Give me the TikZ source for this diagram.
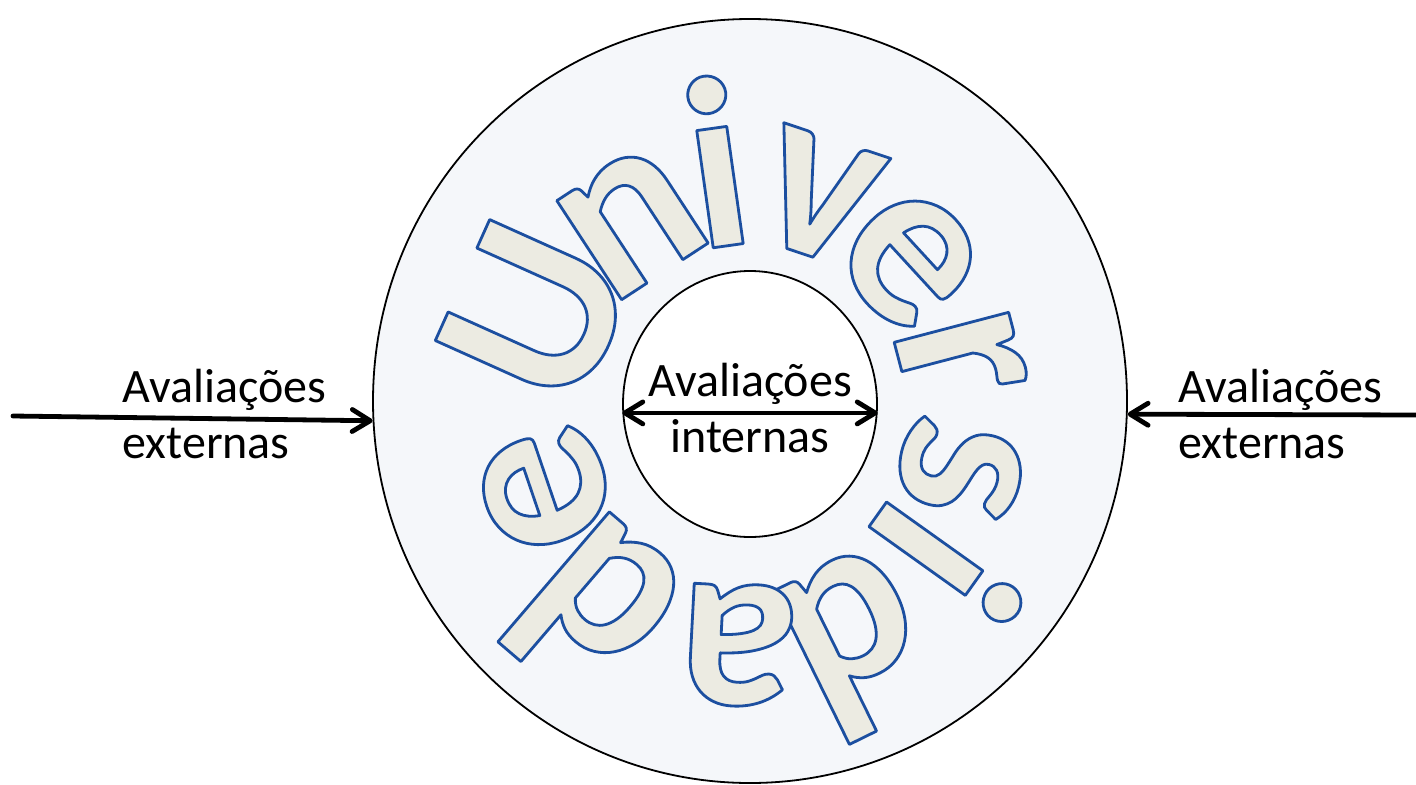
\documentclass[tikz,border=0pt]{standalone}
\usepackage{fontspec}
\setmainfont{Carlito}
\usetikzlibrary{arrows.meta,calc,shapes.geometric}
\definecolor{ringfill}{HTML}{F5F7FA}
\definecolor{letfill}{HTML}{ECEBE2}
\definecolor{letline}{HTML}{1C4FA0}
\newcommand\olet[1]{\special{pdf:literal direct 0.110 0.310 0.627 RG 1.4 w 1 j 2 Tr}#1\special{pdf:literal direct 0 Tr}}
\begin{document}
\begin{tikzpicture}[x=0.5pt,y=0.5pt,
  lbl/.style={font=\fontsize{24}{28}\selectfont, inner sep=0pt, align=left},
  arr/.style={line width=2.4pt, line cap=round, -{Straight Barb[length=9pt,width=11pt,line cap=round,line join=round]}},
  darr/.style={line width=2.4pt, line cap=round, {Straight Barb[length=9pt,width=11pt,line cap=round,line join=round]}-{Straight Barb[length=9pt,width=11pt,line cap=round,line join=round]}},
  wl/.style={font=\fontsize{122}{122}\selectfont\bfseries, anchor=base, inner sep=0pt, outer sep=0pt, text=letfill}]
\useasboundingbox (0,0) rectangle (1416,784);
\node[ellipse, draw, line width=0.9pt, fill=ringfill, minimum width=377pt, minimum height=382pt, inner sep=0pt] (big) at (750,383) {};
\node[ellipse, draw, line width=0.9pt, fill=white, minimum width=127pt, minimum height=133pt, inner sep=0pt] (hole) at (750,380) {};
\foreach \ang/\ch [count=\n] in {155.8/U,123.2/n,98/i,71.5/v,42.6/e,14.7/r,-13.4/s,-35.5/i,-63.8/d,-93/a,-130.6/d,-161.2/e}{
  \coordinate (c\n) at ({750+157*cos(\ang)},{369+171*sin(\ang)});
  \node[wl, rotate=\ang-90] (L\n) at (c\n) {\olet{\ch}};
}
\coordinate (lstart) at (13,368);
\coordinate (rstart) at (1418,369);
\draw[arr] (lstart) -- (big.183);
\draw[arr] (rstart) -- (big.-2);
\draw[darr] (hole.184) -- (hole.-4);
\node[lbl, anchor=base west] (le) at (122,326) {Avaliações\\externas};
\node[lbl, anchor=base west] (re) at (1178,326) {Avaliações\\externas};
\node[lbl, align=center, anchor=base] (ie) at (750,332) {Avaliações\\internas};
\end{tikzpicture}
\end{document}
